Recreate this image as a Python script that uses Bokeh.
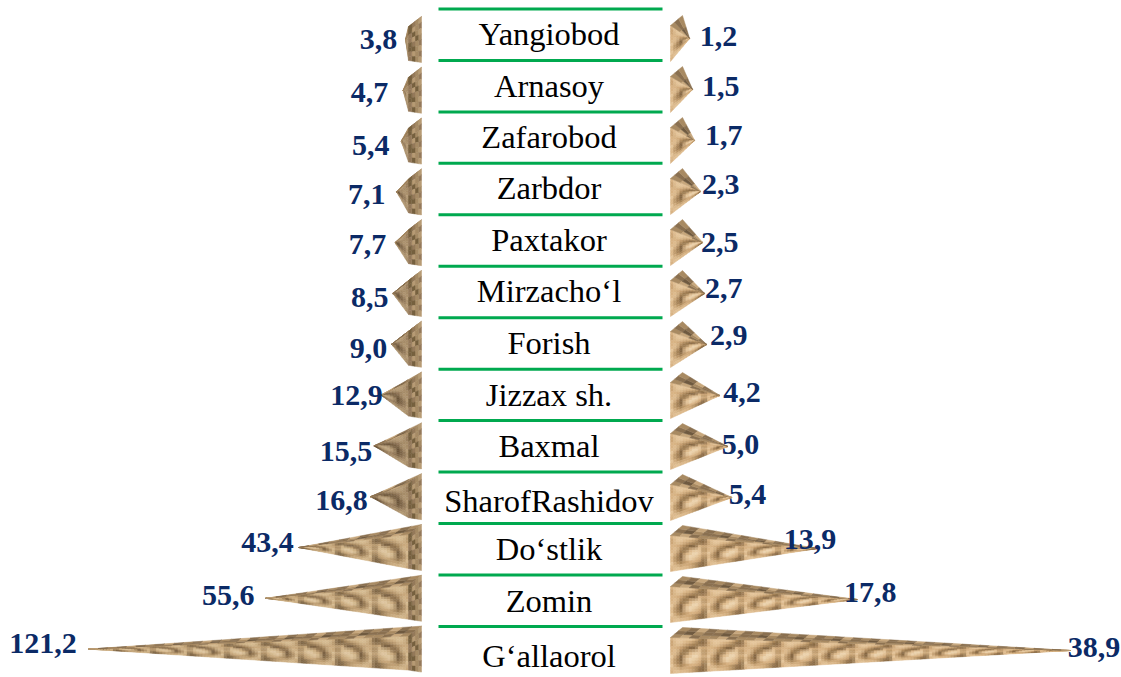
from bokeh.plotting import figure
from bokeh.models import Range1d, ColumnDataSource
from bokeh.core.properties import value
from bokeh.embed import file_html
from bokeh.resources import INLINE

districts = ["Yangiobod", "Arnasoy", "Zafarobod", "Zarbdor", "Paxtakor", "Mirzacho‘l", "Forish",
             "Jizzax sh.", "Baxmal", "SharofRashidov", "Do‘stlik", "Zomin", "G‘allaorol"]
left_values = [3.8, 4.7, 5.4, 7.1, 7.7, 8.5, 9.0, 12.9, 15.5, 16.8, 43.4, 55.6, 121.2]
right_values = [1.2, 1.5, 1.7, 2.3, 2.5, 2.7, 2.9, 4.2, 5.0, 5.4, 13.9, 17.8, 38.9]
left_labels = ["3,8", "4,7", "5,4", "7,1", "7,7", "8,5", "9,0", "12,9", "15,5", "16,8", "43,4", "55,6", "121,2"]
right_labels = ["1,2", "1,5", "1,7", "2,3", "2,5", "2,7", "2,9", "4,2", "5,0", "5,4", "13,9", "17,8", "38,9"]

# layout (pixels)
W, H = 1121, 677
L_BASE, R_BASE = 421, 670          # zero of each value axis
L_SCALE, R_SCALE = 2.70, 10.10     # px per unit
L_TIP, R_TIP = 5.7, 7.0            # px the tip adds to the value
DEPTH_X_L, DEPTH_X_R, DEPTH_Y = 13, 12, 10
PYR_H, TILE = 46, 37
L_TOP0, L_STEP = 16.0, 50.8
R_TOP0, R_STEP = 15.0, 51.0
LINE_Y = [8.5 + 51.45 * i for i in range(13)]
NAME_Y = [33.5, 85.5, 136.5, 187.5, 239.5, 290.5, 342.5, 394.5, 445.5, 500.5, 548.5, 600.5, 655.5]
L_LABEL_DX = [-27, -33.5, -30.5, -30, -27.5, -23, -23, -24.5, -28, -29, -31, -37.5, -45.5]
R_LABEL_DX = [29, 28, 29, 20, 17, 19, 22, 22, 12.5, 15.5, -8, 13, 23.5]
L_LABEL_Y = [39, 92, 145, 194, 244, 297, 348, 395, 451, 500, 542, 595, 643]
R_LABEL_Y = [36, 86, 135, 184, 242, 288, 335, 392, 444, 494, 539, 592, 647]

# texture (style only)
PAL = ["#F0DAB8", "#E4C59A", "#D8B384", "#C69F70", "#A98659", "#876945"]
TILE_FRONT = ["21111245", "31123455", "22345523", "21452114",
              "13521013", "24510124", "13432235", "21223455"]
TOP_PAL = ["#C7A77C", "#A88A62", "#8A7050", "#6F5A40"]
TILE_TOP = ["1021", "2312", "1202"]
SIDE_PAL = ["#B79B74", "#94795A", "#76603F", "#A58A65"]
TILE_SIDE = ["0312", "1302", "0321", "3201", "1312", "0322", "1301", "0321"]
L_PAL = ["#E2CBA6", "#D5BA90", "#C8A87C", "#B5966C", "#9A7D56", "#7C6344"]
L_PAL_SMALL = ["#C4AB86", "#B59B76", "#A68C68", "#94795A", "#7F6749", "#6A5439"]
SMALL_PX = 40
CELLS = 12


def hex_rgb(h):
    return tuple(int(h[i:i + 2], 16) for i in (1, 3, 5))


def shade(pal, tile, r, c):
    """Bilinear colour of the (wrapped) tile at fractional row, col."""
    n_r, n_c = len(tile), len(tile[0])
    r0, c0 = int(r), int(c)
    fr, fc = r - r0, c - c0
    out = [0.0, 0.0, 0.0]
    for dr, wr in ((0, 1 - fr), (1, fr)):
        for dc, wc in ((0, 1 - fc), (1, fc)):
            rgb = hex_rgb(pal[int(tile[(r0 + dr) % n_r][(c0 + dc) % n_c])])
            for k in range(3):
                out[k] += rgb[k] * wr * wc
    return "#%02x%02x%02x" % tuple(int(round(x)) for x in out)


def lerp(a, b, t):
    return a + (b - a) * t


def add(store, xs, ys, color):
    store["xs"].append(xs)
    store["ys"].append(ys)
    store["c"].append(color)


def front(store, to_x, y_top, y_bot, tip_y, length, pal):
    """Perspective-mapped tiles on a triangular face that runs from the base to the tip."""
    cw = TILE / CELLS
    scale = len(TILE_FRONT) / CELLS
    c = 0
    while c * cw < length:
        d0, d1 = c * cw, min((c + 1) * cw, length)
        t0, t1 = d0 / length, d1 / length
        top0, top1 = lerp(y_top, tip_y, t0), lerp(y_top, tip_y, t1)
        bot0, bot1 = lerp(y_bot, tip_y, t0), lerp(y_bot, tip_y, t1)
        for r in range(CELLS):
            a, b = r / CELLS, (r + 1) / CELLS
            col = shade(pal, TILE_FRONT, r * scale, (c % CELLS) * scale)
            add(store, [to_x(d0), to_x(d1), to_x(d1), to_x(d0)],
                [lerp(top0, bot0, a), lerp(top1, bot1, a), lerp(top1, bot1, b), lerp(top0, bot0, b)], col)
        c += 1


def top_face(store, to_x, low, back, tip, y_low, y_back, tip_y):
    """Strips on the top face, low/back are px distances of its two base corners."""
    n_c, n_r = len(TILE_TOP[0]), len(TILE_TOP)
    cols = max(1, int(round((tip - low) / (TILE / n_c))))
    for c in range(cols):
        s0, s1 = c / cols, (c + 1) / cols
        for r in range(n_r):
            a, b = r / n_r, (r + 1) / n_r
            col = TOP_PAL[int(TILE_TOP[r][c % n_c])]
            def pt(s, q):
                x = lerp(lerp(low, tip, s), lerp(back, tip, s), q)
                y = lerp(lerp(y_low, tip_y, s), lerp(y_back, tip_y, s), q)
                return x, y
            p = [pt(s0, a), pt(s1, a), pt(s1, b), pt(s0, b)]
            add(store, [to_x(v[0]) for v in p], [v[1] for v in p], col)


left = {"xs": [], "ys": [], "c": []}
right = {"xs": [], "ys": [], "c": []}
lx = lambda d: d / L_SCALE
rx = lambda d: d / R_SCALE

for i, v in enumerate(left_values):
    T = L_TOP0 + L_STEP * i
    B = T + PYR_H
    tip_d = v * L_SCALE + L_TIP
    tip_y = T + PYR_H / 2
    ridge_d = min(DEPTH_X_L, tip_d - 1)
    length = tip_d - ridge_d
    front(left, lambda d, r=ridge_d: lx(d + r), T + DEPTH_Y, B - 2, tip_y, length,
          L_PAL_SMALL if length < SMALL_PX else L_PAL)
    top_face(left, lx, ridge_d, 0, tip_d, T + DEPTH_Y, T, tip_y)
    n_c, n_r = len(TILE_SIDE[0]), len(TILE_SIDE)
    for c in range(n_c):
        d0, d1 = ridge_d * c / n_c, ridge_d * (c + 1) / n_c
        for r in range(n_r):
            a, b = r / n_r, (r + 1) / n_r
            t0 = lerp(T, T + DEPTH_Y, c / n_c)
            t1 = lerp(T, T + DEPTH_Y, (c + 1) / n_c)
            b0 = lerp(B, B - 2, c / n_c)
            b1 = lerp(B, B - 2, (c + 1) / n_c)
            add(left, [lx(d0), lx(d1), lx(d1), lx(d0)],
                [lerp(t0, b0, a), lerp(t1, b1, a), lerp(t1, b1, b), lerp(t0, b0, b)],
                SIDE_PAL[int(TILE_SIDE[r][c])])

for i, v in enumerate(right_values):
    T = R_TOP0 + R_STEP * i
    B = T + PYR_H
    tip_d = v * R_SCALE + R_TIP
    tip_y = T + PYR_H / 2
    front(right, rx, T + DEPTH_Y, B, tip_y, tip_d, PAL)
    top_face(right, rx, 0, DEPTH_X_R, tip_d, T + DEPTH_Y, T, tip_y)

p = figure(width=W, height=H, toolbar_location=None, output_backend="svg",
           x_axis_type=None, y_axis_type=None,
           x_range=Range1d(0, W), y_range=Range1d(H, 0),
           min_border=0, outline_line_color=None)
p.background_fill_color = "white"
p.border_fill_color = "white"
p.extra_x_ranges = {
    "left": Range1d(L_BASE / L_SCALE, (L_BASE - W) / L_SCALE),
    "right": Range1d(-R_BASE / R_SCALE, (W - R_BASE) / R_SCALE),
}

for store, name in ((left, "left"), (right, "right")):
    p.patches("xs", "ys", source=ColumnDataSource(store), x_range_name=name,
              fill_color="c", line_color="c", line_width=0.5)

p.segment(x0=[438] * 13, x1=[662] * 13, y0=LINE_Y, y1=LINE_Y, line_color="#00A94F", line_width=3)

p.text(x=[548.5] * 13, y=NAME_Y, text=districts, text_font=value("Liberation Serif"),
       text_font_size="32.5px", text_color="#000000", text_align="center", text_baseline="middle")

lab_color = "#0B2A66"
p.text(x="x", y="y", text="t", x_offset="dx", source=ColumnDataSource(dict(
    x=[v + L_TIP / L_SCALE for v in left_values], y=L_LABEL_Y, t=left_labels, dx=L_LABEL_DX)),
    x_range_name="left", text_font=value("Liberation Serif"), text_font_style="bold",
    text_font_size="30px", text_color=lab_color, text_align="center", text_baseline="middle")
p.text(x="x", y="y", text="t", x_offset="dx", source=ColumnDataSource(dict(
    x=[v + R_TIP / R_SCALE for v in right_values], y=R_LABEL_Y, t=right_labels, dx=R_LABEL_DX)),
    x_range_name="right", text_font=value("Liberation Serif"), text_font_style="bold",
    text_font_size="30px", text_color=lab_color, text_align="center", text_baseline="middle")

open("out.html", "w").write(file_html(p, INLINE))
